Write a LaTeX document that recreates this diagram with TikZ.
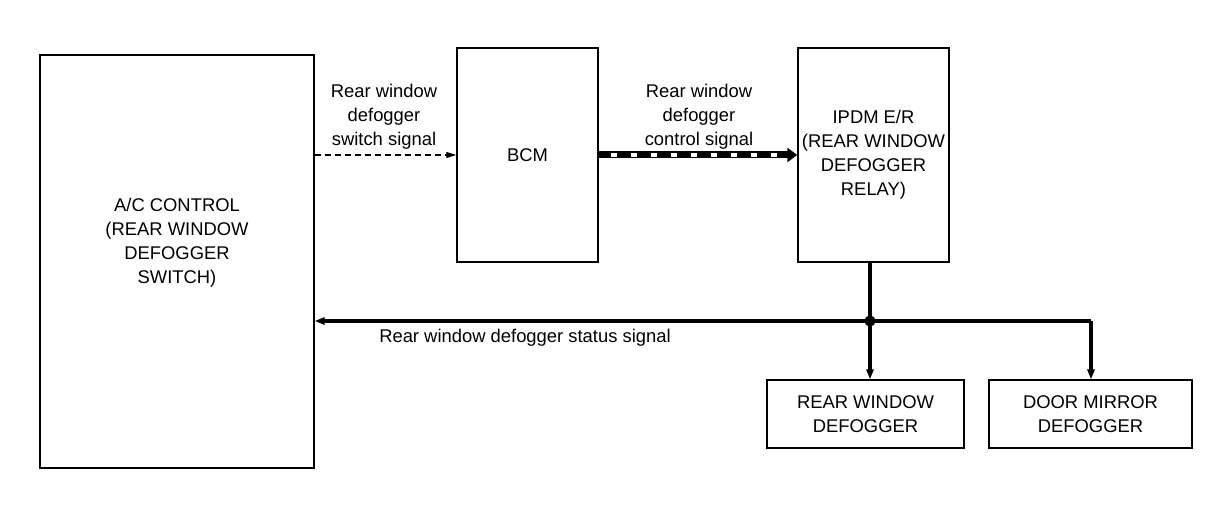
\documentclass[tikz,border=0pt]{standalone}
\usepackage{fontspec}
\setmainfont{Liberation Sans}
\usetikzlibrary{arrows.meta}

\begin{document}
\begin{tikzpicture}[x=0.5pt,y=-0.5pt,
    unit/.style={draw,line width=0.7pt,align=center,inner sep=0pt,font=\fontsize{9.2}{12}\selectfont},
    sig/.style={align=center,font=\fontsize{9.2}{12}\selectfont},
    switchline/.style={densely dashed,line width=0.6pt,-{Triangle[length=5pt,width=3pt]}},
    statusline/.style={line width=2pt,-{Triangle[length=5pt,width=3.6pt]}}]
    \useasboundingbox(0,0)rectangle(1216,512);
    \node[unit,minimum width=137pt,minimum height=206.5pt](ac)at(177,261.5){};
    \node[sig]at(177,242.5){A/C CONTROL\\(REAR WINDOW\\DEFOGGER\\SWITCH)};
    \node[unit,minimum width=70.5pt,minimum height=107pt](bcm)at(527.5,155){BCM};
    \node[unit,minimum width=75.5pt,minimum height=107pt](ipdm)at(873.5,155){IPDM E/R\\(REAR WINDOW\\DEFOGGER\\RELAY)};
    \node[unit,minimum width=98.5pt,minimum height=34pt](rwd)at(865.5,414){REAR WINDOW\\DEFOGGER};
    \node[unit,minimum width=101.5pt,minimum height=34pt](dmd)at(1090.5,414){DOOR MIRROR\\DEFOGGER};
    \coordinate(jn)at(870,321);
    \coordinate(bend)at(1091,321);
    % switch signal
    \draw[switchline](ac.east|-bcm.west)--(bcm.west);
    \node[sig](swlbl)at(384,117){Rear window\\defogger\\switch signal};
    % control signal
    \draw[line width=3.5pt,-{Triangle[length=5pt,width=7pt]}](bcm.east)--(ipdm.west);
    \draw[white,line width=1.8pt,dash pattern=on 3pt off 7pt,dash phase=-6pt,shorten >=7pt](bcm.east)--(ipdm.west);
    \node[sig](ctlbl)at(699,117){Rear window\\defogger\\control signal};
    % status signal
    \draw[statusline](bend)--(ac.east|-bend);
    \draw[statusline](ipdm.south-|jn)--(rwd.north-|jn);
    \draw[statusline](bend)--(dmd.north-|bend);
    \fill(jn)circle(2.8pt);
    \node[sig](stlbl)at(525,338){Rear window defogger status signal};
\end{tikzpicture}
\end{document}
